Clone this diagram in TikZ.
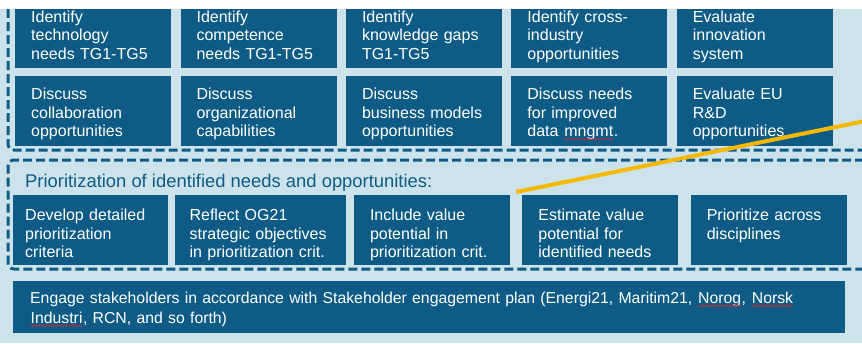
\documentclass[tikz,border=0pt]{standalone}
\usepackage{fontspec}
\setmainfont{Liberation Sans}
\usetikzlibrary{positioning, calc, decorations.pathmorphing}
\definecolor{boxBlue}{RGB}{14,92,134}
\definecolor{paleBlue}{RGB}{205,227,236}
\definecolor{calloutYellow}{RGB}{246,184,0}
\definecolor{spellRed}{RGB}{214,40,40}
\tikzset{
    % Boxes
    taskBox/.style={rectangle, fill=boxBlue, text=white, align=left, anchor=north west,
                    inner xsep=16pt, inner ysep=0pt, text width=124pt,
                    text height=24pt, text depth=46pt,
                    font=\fontsize{16}{18.5}\selectfont},
    lowBox/.style={taskBox, text height=25.5pt, text depth=44.5pt},
    % Frames & lines
    groupLine/.style={draw=boxBlue, line width=3pt, dash pattern=on 9pt off 4pt, rounded corners=6pt},
    titleLbl/.style={anchor=base west, inner sep=0pt, text=boxBlue, font=\fontsize{18.4}{22}\selectfont},
    calloutLine/.style={draw=calloutYellow, line width=4pt},
    squiggle/.style={draw=spellRed, line width=0.6pt, decorate,
                     decoration={snake, amplitude=0.8pt, segment length=3pt}}
}
% wavy red mark under a word
\newcommand{\spellmark}[1]{\tikz[baseline=(sw.base)]{%
    \node[inner sep=0pt, anchor=base, text width={}, text height={}, text depth={}, align=none] (sw) {#1};
    \draw[squiggle] ([yshift=-2.5pt]sw.base west) -- ([yshift=-2.5pt]sw.base east);}}

\begin{document}
\begin{tikzpicture}[x=1pt, y=-1pt]

\useasboundingbox (0,0) rectangle (862,343);
\fill[white] (0,0) rectangle (862,343);
\clip (0,9) rectangle (862,343);
\fill[paleBlue] (0,9) rectangle (862,343);

% identification of needs
\node[taskBox] (tech) at (15,-2) {Identify\\technology\\needs TG1-TG5};
\node[taskBox, right=9pt of tech] (compet) {Identify\\competence\\needs TG1-TG5};
\node[taskBox, right=9pt of compet] (gaps) {Identify\\knowledge gaps\\TG1-TG5};
\node[taskBox, right=9pt of gaps] (cross) {Identify cross-\\industry\\opportunities};
\node[taskBox, right=9pt of cross] (innov) {Evaluate\\innovation\\system};

\node[taskBox, below=7pt of tech] (collab) {Discuss\\collaboration\\opportunities};
\node[taskBox, right=9pt of collab] (orgcap) {Discuss\\organizational\\capabilities};
\node[taskBox, right=9pt of orgcap] (busmod) {Discuss\\business models\\opportunities};
\node[taskBox, right=9pt of busmod] (datamgmt) {Discuss needs\\for improved\\data \spellmark{mngmt}.};
\node[taskBox, right=9pt of datamgmt] (eurd) {Evaluate EU\\R\&D\\opportunities};

\draw[groupLine] (8,-30) |- (890,150);

% prioritization
\draw[groupLine] (890,160) -| (8,269) -- (890,269);
\node[titleLbl] (prio) at (25,187) {Prioritization of identified needs and opportunities:};

\node[lowBox, inner xsep=12pt, text width=131pt] (crit) at (13,195) {Develop detailed\\prioritization\\criteria};
\node[lowBox, right=6pt of crit, inner xsep=15pt, text width=141pt] (og21) {Reflect OG21\\strategic objectives\\in prioritization crit.};
\node[lowBox, right=8pt of og21] (valcrit) {Include value\\potential in\\prioritization crit.};
\node[lowBox, right=12pt of valcrit] (estim) {Estimate value\\potential for\\identified needs};
\node[lowBox, right=12pt of estim] (acrossdisc) {Prioritize across\\disciplines};

% stakeholders
\node[taskBox, inner xsep=17pt, text width=798pt, text height=22pt, text depth=30pt,
      font=\fontsize{15.8}{20}\selectfont] (engage) at (13,281)
    {Engage stakeholders in accordance with Stakeholder engagement plan (Energi21, Maritim21, \spellmark{Norog}, \spellmark{Norsk}\\\spellmark{Industri}, RCN, and so forth)};

% callout
\coordinate (offedge) at (880,118);
\draw[calloutLine] ($(estim.north west)+(-6,-3)$) -- (offedge);

\end{tikzpicture}
\end{document}
